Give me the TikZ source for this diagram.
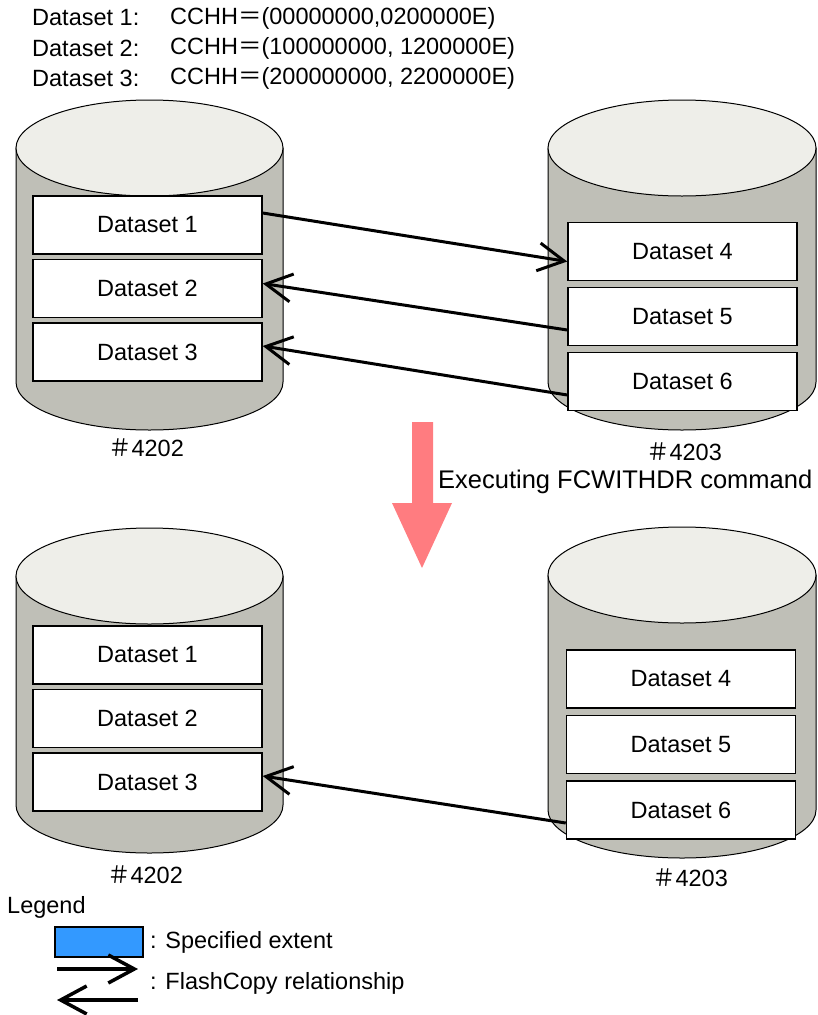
\documentclass[tikz,border=0pt]{standalone}
\usepackage{fontspec}
\setmainfont{Liberation Sans}
\newfontfamily\cjk{Noto Sans CJK JP}
\usetikzlibrary{positioning,arrows.meta}

\definecolor{drumgrey}{RGB}{191,191,183}
\definecolor{drumlid}{RGB}{238,238,233}
\definecolor{extentblue}{RGB}{51,153,255}
\definecolor{stepred}{RGB}{255,124,128}

\tikzset{
  body/.style={fill=drumgrey, draw=black, line width=1pt},
  lid/.style={fill=drumlid, draw=black, line width=1pt},
  dsbox/.style={draw=black, fill=white, line width=1.5pt, minimum width=229pt, minimum height=58pt, inner sep=0pt},
  flash/.style={line width=3pt, -{Straight Barb[length=26pt,width=28pt]}},
  txt/.style={inner sep=0pt, anchor=west},
}

% volume drawn as a cylinder: centre x, lid y, base y, x radius
\newcommand{\drum}[4]{%
  \filldraw[body] (#1-#4,#2) -- (#1-#4,#3) arc[start angle=180, end angle=0, x radius=#4, y radius=48] -- (#1+#4,#2) -- cycle;
  \filldraw[lid] (#1,#2) ellipse[x radius=#4, y radius=48];
}

\begin{document}
\begin{tikzpicture}[x=1pt, y=-1pt, every node/.style={font=\fontsize{23.5}{28}\selectfont}]
  \useasboundingbox (0,0) rectangle (817,1015);

  % extents
  \node[txt] (ext1) at (32,18) {Dataset 1:};
  \node[txt] (ext2) at (32,48) {Dataset 2:};
  \node[txt] (ext3) at (32,78) {Dataset 3:};
  \node[txt] (cc1) at (170,18) {CCHH{\cjk ＝}(00000000,0200000E)};
  \node[txt] (cc2) at (170,48) {CCHH{\cjk ＝}(100000000, 1200000E)};
  \node[txt] (cc3) at (170,78) {CCHH{\cjk ＝}(200000000, 2200000E)};

  % before
  \drum{149.5}{148}{382}{133.5}
  \drum{682}{148}{382}{134}

  \node[dsbox] (ds1) at (147.5,225) {Dataset 1};
  \node[dsbox, below=4pt of ds1] (ds2) {Dataset 2};
  \node[dsbox, below=4pt of ds2] (ds3) {Dataset 3};

  \node[dsbox] (ds4) at (682.5,251.5) {Dataset 4};
  \node[dsbox, below=5.5pt of ds4] (ds5) {Dataset 5};
  \node[dsbox, below=5.5pt of ds5] (ds6) {Dataset 6};

  \node (volA) at (146,448) {{\cjk ＃}4202};
  \node (volB) at (684,452) {{\cjk ＃}4203};

  \draw[flash] ([yshift=12pt]ds1.east) -- ([yshift=-10pt]ds4.west);
  \draw[flash] ([yshift=-13.5pt]ds5.west) -- ([yshift=5pt]ds2.east);
  \draw[flash] ([yshift=-13.5pt]ds6.west) -- ([yshift=6pt]ds3.east);

  % command
  \fill[stepred] (412,422) -- (433,422) -- (433,503) -- (452,503) -- (422,568) -- (392,503) -- (412,503) -- cycle;
  \node[txt, font=\fontsize{25.5}{30}\selectfont] (cmd) at (438,482) {Executing FCWITHDR command};

  % after
  \drum{149.5}{576}{805}{133.5}
  \drum{682}{575}{810}{134}

  \node[dsbox] (af1) at (147.5,655) {Dataset 1};
  \node[dsbox, below=4pt of af1] (af2) {Dataset 2};
  \node[dsbox, below=4pt of af2] (af3) {Dataset 3};

  \node[dsbox] (af4) at (681,679) {Dataset 4};
  \node[dsbox, below=6pt of af4] (af5) {Dataset 5};
  \node[dsbox, below=6pt of af5] (af6) {Dataset 6};

  \node (volC) at (145,875) {{\cjk ＃}4202};
  \node (volD) at (690,878) {{\cjk ＃}4203};

  \draw[flash] ([yshift=-13pt]af6.west) -- ([yshift=6pt]af3.east);

  % legend
  \node[txt] (leg) at (7,907) {Legend};
  \node[draw=black, fill=extentblue, line width=1.5pt, minimum width=88pt, minimum height=30pt, inner sep=0pt] (key) at (99,942) {};
  \node[txt] (keytxt) at (150,942) {: Specified extent};
  \coordinate (fcA) at (57,969);
  \coordinate (fcB) at (138,969);
  \coordinate (fcC) at (138,1000);
  \coordinate (fcD) at (57,1000);
  \draw[flash, line width=3.5pt] (fcA) -- (fcB);
  \draw[flash, line width=3.5pt] (fcC) -- (fcD);
  \node[txt] (fctxt) at (150,983) {: FlashCopy relationship};
\end{tikzpicture}
\end{document}
